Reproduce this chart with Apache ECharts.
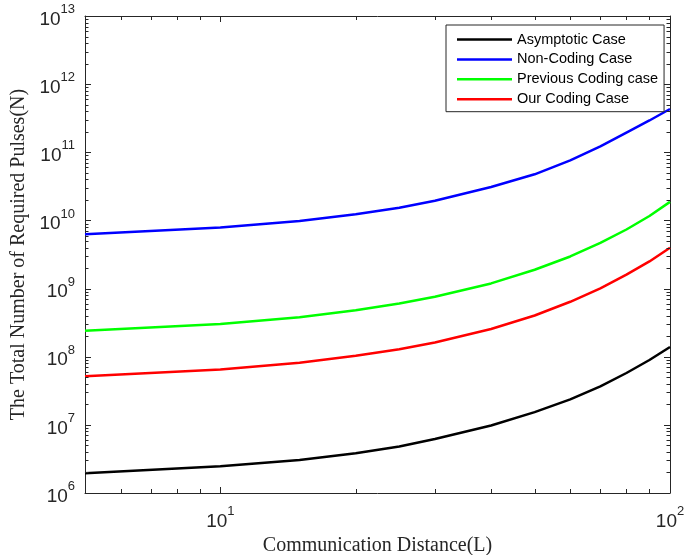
<!DOCTYPE html>
<html>
<head>
<meta charset="utf-8">
<script src="https://cdn.jsdelivr.net/npm/echarts@6/dist/echarts.min.js"></script>
<style>
  html, body { margin: 0; padding: 0; background: #fff; }
  #chart { width: 684px; height: 555px; }
</style>
</head>
<body>
<div id="chart"></div>
<script>
// Communication distance L (x axis)
const distances = [5, 10, 15, 20, 25, 30, 40, 50, 60, 70, 80, 90, 100];

// Total number of required pulses N
const asymptotic = [1.95e6, 2.47e6, 3.05e6, 3.83e6, 4.81e6, 6.2e6, 9.8e6, 1.54e7, 2.36e7, 3.66e7, 5.77e7, 8.95e7, 1.39e8];
const nonCoding  = [6.26e9, 7.88e9, 9.81e9, 1.23e10, 1.54e10, 1.94e10, 3.1e10, 4.75e10, 7.59e10, 1.22e11, 1.95e11, 2.93e11, 4.32e11];
const previousCoding = [2.41e8, 3.02e8, 3.80e8, 4.79e8, 6.02e8, 7.57e8, 1.19e9, 1.89e9, 2.96e9, 4.67e9, 7.36e9, 1.16e10, 1.87e10];
const ourCoding  = [5.16e7, 6.49e7, 8.14e7, 1.03e8, 1.29e8, 1.62e8, 2.55e8, 4.03e8, 6.4e8, 1.01e9, 1.6e9, 2.5e9, 3.98e9];

const seriesNames = ['Asymptotic Case', 'Non-Coding Case', 'Previous Coding case', 'Our Coding Case'];
const seriesColors = ['#000000', '#0000ff', '#00ff00', '#ff0000'];
const seriesValues = [asymptotic, nonCoding, previousCoding, ourCoding];

// Axis ranges and tick values
const xRange = [5, 100];
const yRange = [1e6, 1e13];
const xMajorTicks = [10, 100];
const xMinorTicks = [6, 7, 8, 9, 20, 30, 40, 50, 60, 70, 80, 90];
const yDecades = [6, 7, 8, 9, 10, 11, 12, 13];
const minorMantissas = [2, 3, 4, 5, 6, 7, 8, 9];

const yMajorTicks = yDecades.map(function (e) { return Math.pow(10, e); });
const yMinorTicks = [];
yDecades.slice(0, -1).forEach(function (e) {
  minorMantissas.forEach(function (m) { yMinorTicks.push(m * Math.pow(10, e)); });
});

const axisColor = '#262626';

function powLabel(v) {
  const e = Math.round(Math.log10(v));
  if (Math.abs(v - Math.pow(10, e)) > 1e-6 * v) return '';
  return '{b|10}{s|' + e + '}';
}

const labelRich = {
  b: { fontSize: 19, fontFamily: 'Liberation Sans, Arial, sans-serif', color: axisColor, lineHeight: 26, verticalAlign: 'bottom' },
  s: { fontSize: 13, fontFamily: 'Liberation Sans, Arial, sans-serif', color: axisColor, lineHeight: 14, verticalAlign: 'top' }
};

function makeAxis(range, position, extra) {
  const ax = {
    type: 'log',
    logBase: 10,
    min: range[0],
    max: range[1],
    position: position,
    axisLine: { show: true, onZero: false, lineStyle: { color: axisColor, width: 1 } },
    axisTick: { show: false },
    minorTick: { show: false },
    splitLine: { show: false },
    minorSplitLine: { show: false },
    axisLabel: { show: false }
  };
  return Object.assign(ax, extra || {});
}

const chart = echarts.init(document.getElementById('chart'), null, { renderer: 'canvas' });

const lineSeries = seriesNames.map(function (name, i) {
  return {
    name: name,
    type: 'line',
    xAxisIndex: 0,
    yAxisIndex: 0,
    symbol: 'none',
    showSymbol: false,
    smooth: false,
    z: 3,
    lineStyle: { color: seriesColors[i], width: 2.5 },
    itemStyle: { color: seriesColors[i] },
    data: distances.map(function (d, j) { return [d, seriesValues[i][j]]; })
  };
});

const option = {
  backgroundColor: '#ffffff',
  animation: false,
  grid: { left: 85, right: 14, top: 16, bottom: 62, containLabel: false, outerBoundsMode: 'none' },
  legend: {
    orient: 'vertical',
    left: 446,
    top: 25,
    z: 10,
    padding: [7, 6, 5, 11],
    itemGap: 4.9,
    itemWidth: 55,
    itemHeight: 2.5,
    icon: 'rect',
    borderColor: axisColor,
    borderWidth: 1,
    backgroundColor: '#ffffff',
    textStyle: { fontFamily: 'Liberation Sans, Arial, sans-serif', fontSize: 14.5, lineHeight: 14, color: '#000000' },
    data: seriesNames
  },
  xAxis: [
    makeAxis(xRange, 'bottom', {
      axisLabel: { show: true, formatter: powLabel, rich: labelRich, margin: 12 },
      name: 'Communication Distance(L)',
      nameLocation: 'middle',
      nameGap: 41,
      nameTextStyle: { fontFamily: 'Liberation Serif, Times New Roman, serif', fontSize: 20, color: axisColor }
    }),
    makeAxis(xRange, 'top')
  ],
  yAxis: [
    makeAxis(yRange, 'left', {
      axisLabel: { show: true, formatter: powLabel, rich: labelRich, margin: 10 },
      name: 'The Total Number of Required Pulses(N)',
      nameLocation: 'middle',
      nameGap: 48,
      nameTextStyle: { fontFamily: 'Liberation Serif, Times New Roman, serif', fontSize: 20, color: axisColor }
    }),
    makeAxis(yRange, 'right')
  ],
  series: lineSeries
};

chart.setOption(option);

// Tick marks: positions come from the chart's own log scales (convertToPixel), mirrored inward on all sides
function tickElements(values, dir, len) {
  const els = [];
  values.forEach(function (v) {
    if (dir === 'x') {
      const pb = chart.convertToPixel({ gridIndex: 0 }, [v, yRange[0]]);
      const pt = chart.convertToPixel({ gridIndex: 0 }, [v, yRange[1]]);
      const x = Math.round(pb[0]) + 0.5;
      els.push({ type: 'line', silent: true, z: 50, shape: { x1: x, y1: pb[1], x2: x, y2: pb[1] - len }, style: { stroke: axisColor, lineWidth: 1 } });
      els.push({ type: 'line', silent: true, z: 50, shape: { x1: x, y1: pt[1], x2: x, y2: pt[1] + len }, style: { stroke: axisColor, lineWidth: 1 } });
    } else {
      const pl = chart.convertToPixel({ gridIndex: 0 }, [xRange[0], v]);
      const pr = chart.convertToPixel({ gridIndex: 0 }, [xRange[1], v]);
      const y = Math.round(pl[1]) + 0.5;
      els.push({ type: 'line', silent: true, z: 50, shape: { x1: pl[0], y1: y, x2: pl[0] + len, y2: y }, style: { stroke: axisColor, lineWidth: 1 } });
      els.push({ type: 'line', silent: true, z: 50, shape: { x1: pr[0], y1: y, x2: pr[0] - len, y2: y }, style: { stroke: axisColor, lineWidth: 1 } });
    }
  });
  return els;
}

const tickGraphics = []
  .concat(tickElements(xMajorTicks, 'x', 6))
  .concat(tickElements(xMinorTicks, 'x', 4))
  .concat(tickElements(yMajorTicks, 'y', 6))
  .concat(tickElements(yMinorTicks, 'y', 3.5));

chart.setOption({ graphic: tickGraphics });
</script>
</body>
</html>
